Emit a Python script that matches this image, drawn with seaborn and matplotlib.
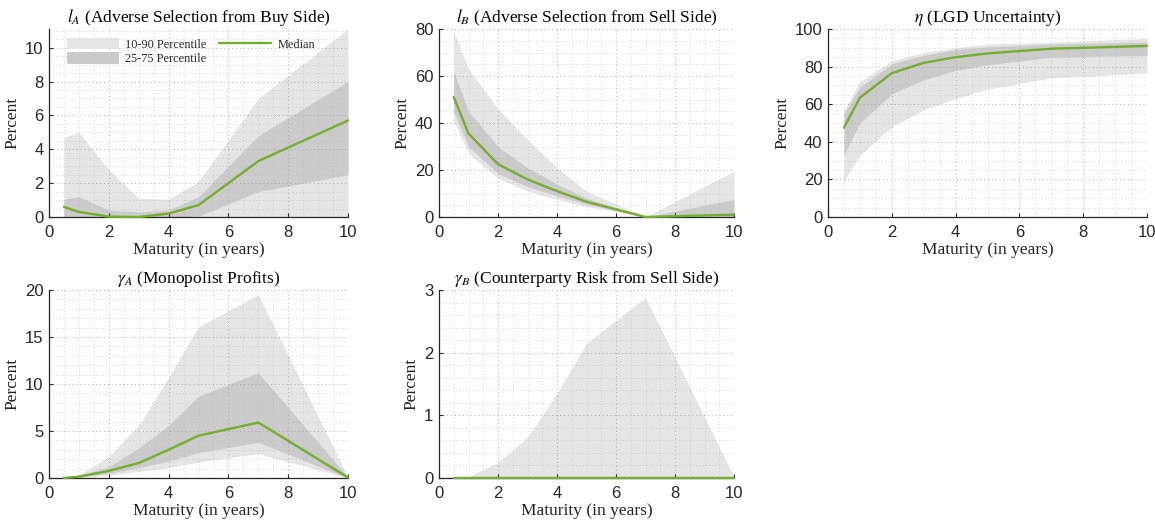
import matplotlib
matplotlib.use("Agg")
import matplotlib.pyplot as plt
import seaborn as sns
import pandas as pd
from matplotlib.ticker import MultipleLocator
from matplotlib.patches import Patch
from matplotlib.lines import Line2D

# ---------------- data ----------------
maturity = [0.5, 1, 2, 3, 4, 5, 7, 10]

lA_p10 = [0, 0, 0, 0, 0, 0, 0, 0]
lA_p25 = [0, 0, 0, 0, 0, 0.05, 1.5, 2.5]
lA_med = [0.6, 0.3, 0.02, 0.0, 0.2, 0.7, 3.3, 5.7]
lA_p75 = [1.05, 1.2, 0.4, 0.3, 0.4, 1.2, 4.8, 8.0]
lA_p90 = [4.7, 5.0, 2.8, 1.1, 1.05, 2.1, 7.0, 11.1]

lB_p10 = [41, 27, 16.5, 11, 7.5, 4.5, 0, 0]
lB_p25 = [45, 30, 18.5, 13, 9, 5.5, 0, 0]
lB_med = [51, 35.5, 22.5, 16, 11, 6.5, 0, 1.0]
lB_p75 = [62, 45, 30, 21, 14, 8, 0, 7.5]
lB_p90 = [79, 63, 46, 33, 21, 11, 0, 19.5]

eta_p10 = [19, 33, 48, 57, 63, 68, 74, 76.5]
eta_p25 = [33, 50, 65.5, 73, 78, 81, 85, 86]
eta_med = [47.5, 63.5, 76.5, 82, 85, 87, 89.5, 91]
eta_p75 = [55, 69, 81.5, 86, 89, 90.5, 92, 93]
eta_p90 = [57, 72, 83, 87.5, 90, 92, 93, 95]

gA_p10 = [0, 0.05, 0.3, 0.7, 1.1, 1.7, 2.6, 0]
gA_p25 = [0, 0.1, 0.5, 1.1, 1.8, 2.7, 3.8, 0]
gA_med = [0, 0.15, 0.75, 1.6, 3.0, 4.5, 5.9, 0.05]
gA_p75 = [0, 0.25, 1.2, 3.2, 5.6, 8.7, 11.2, 0.1]
gA_p90 = [0, 0.3, 2.3, 5.6, 10.7, 16.1, 19.5, 0.1]

gB_p10 = [0, 0, 0, 0, 0, 0, 0, 0]
gB_p25 = [0, 0, 0, 0, 0, 0, 0, 0]
gB_med = [0, 0, 0, 0, 0, 0, 0, 0]
gB_p75 = [0, 0, 0, 0, 0, 0, 0, 0]
gB_p90 = [0, 0.02, 0.25, 0.65, 1.35, 2.15, 2.88, 0.02]

titles = [r"$l_A$ (Adverse Selection from Buy Side)",
          r"$l_B$ (Adverse Selection from Sell Side)",
          r"$\eta$ (LGD Uncertainty)",
          r"$\gamma_A$ (Monopolist Profits)",
          r"$\gamma_B$ (Counterparty Risk from Sell Side)"]
xlabel = "Maturity (in years)"
ylabel = "Percent"
legend_labels = ["10-90 Percentile", "25-75 Percentile", "Median"]

# ---------------- style ----------------
sns.set_theme(style="white")
plt.rcParams["font.family"] = ["Liberation Serif", "DejaVu Serif"]
plt.rcParams["mathtext.fontset"] = "stix"

GREEN = "#77AC30"
LIGHT = "#e5e5e5"
DARK = "#cbcbcb"
AXC = "#262626"
SANS = ["Liberation Sans", "DejaVu Sans"]

fig = plt.figure(figsize=(11.55, 5.22), dpi=100)
W, H = 1155, 522

def ax_at(l, r, t, b):
    return fig.add_axes([l / W, 1 - b / H, (r - l) / W, (b - t) / H])

axes = [ax_at(49, 348, 29, 217), ax_at(439, 734, 29, 217), ax_at(828, 1147, 29, 217),
        ax_at(49, 348, 290, 478), ax_at(439, 734, 290, 478)]

panels = [
    (lA_p10, lA_p25, lA_med, lA_p75, lA_p90, 11.1, 2, 0.5),
    (lB_p10, lB_p25, lB_med, lB_p75, lB_p90, 80, 20, 5),
    (eta_p10, eta_p25, eta_med, eta_p75, eta_p90, 100, 20, 5),
    (gA_p10, gA_p25, gA_med, gA_p75, gA_p90, 20, 5, 1),
    (gB_p10, gB_p25, gB_med, gB_p75, gB_p90, 3, 1, 0.2),
]

for ax, title, (p10, p25, med, p75, p90, ymax, ymaj, ymin) in zip(axes, titles, panels):
    ax.fill_between(maturity, p10, p90, color=LIGHT, lw=0, zorder=1)
    ax.fill_between(maturity, p25, p75, color=DARK, lw=0, zorder=1.1)
    df = pd.DataFrame({"Maturity": maturity, "Median": med})
    sns.lineplot(data=df, x="Maturity", y="Median", ax=ax, color=GREEN, lw=1.7,
                 zorder=5, clip_on=False)
    ax.set_xlim(0, 10)
    ax.set_ylim(0, ymax)
    ax.xaxis.set_major_locator(MultipleLocator(2))
    ax.xaxis.set_minor_locator(MultipleLocator(0.5))
    ax.yaxis.set_major_locator(MultipleLocator(ymaj))
    ax.yaxis.set_minor_locator(MultipleLocator(ymin))
    ax.set_axisbelow(False)
    ax.grid(which="major", color="#9a9a9a", ls=(0, (1, 3)), lw=0.7, alpha=0.8)
    ax.grid(which="minor", color="#b5b5b5", ls=(0, (1, 3)), lw=0.6, alpha=0.7)
    for s in ["top", "right"]:
        ax.spines[s].set_visible(False)
    for s in ["left", "bottom"]:
        ax.spines[s].set_color(AXC)
        ax.spines[s].set_linewidth(0.9)
        ax.spines[s].set_zorder(4)
    ax.tick_params(which="major", direction="in", length=3, width=0.8, color=AXC,
                   labelsize=12, labelcolor=AXC, left=True, bottom=True, pad=4)
    ax.tick_params(axis="x", which="major", pad=6)
    ax.tick_params(which="minor", length=0)
    for lab in ax.get_xticklabels() + ax.get_yticklabels():
        lab.set_family(SANS)
    ax.set_title(title, fontsize=12.5, pad=5, color="black")
    ax.set_xlabel(xlabel, fontsize=12.5, labelpad=1, color="#222222")
    ax.set_ylabel(ylabel, fontsize=12.5, labelpad=3, color="#222222")

handles = [Patch(facecolor=LIGHT, edgecolor="none"),
           Patch(facecolor=DARK, edgecolor="none"),
           Line2D([], [], color=GREEN, lw=1.7)]
axes[0].legend(handles, legend_labels, loc="upper left", ncol=2, frameon=False,
               fontsize=8.8, handlelength=4.3, handleheight=1.1, columnspacing=1.0,
               handletextpad=0.5, labelspacing=0.15, borderaxespad=0.3,
               bbox_to_anchor=(0.03, 1.0))

fig.savefig("out.png", dpi=100)
